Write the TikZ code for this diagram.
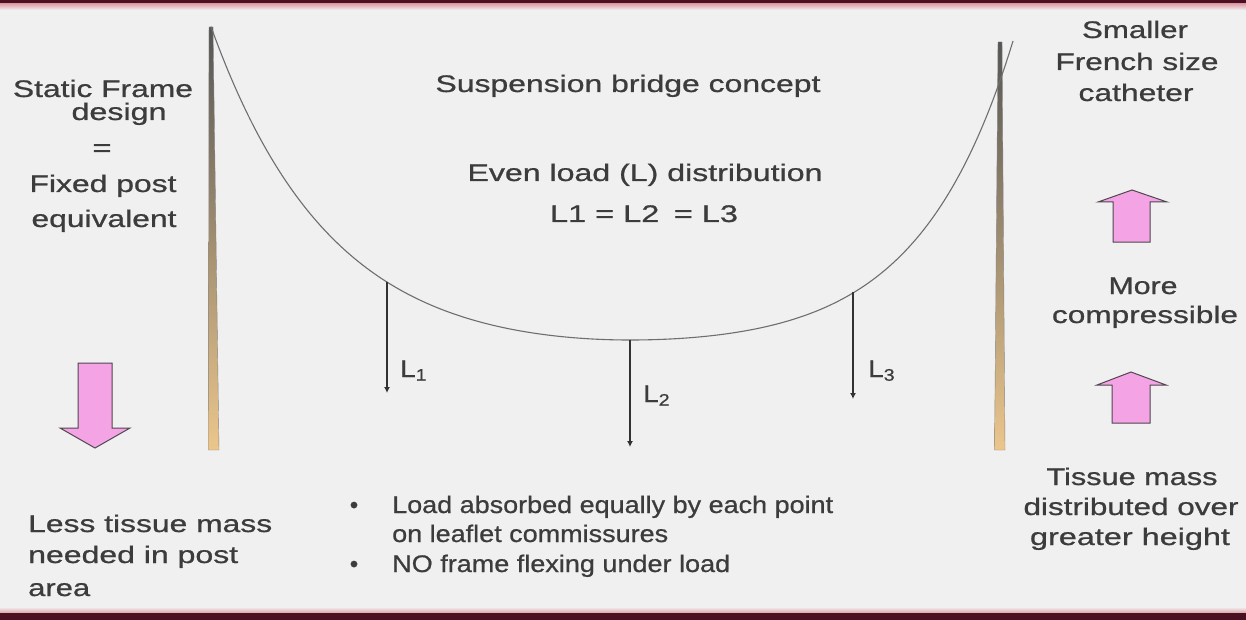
\documentclass[tikz,border=0pt]{standalone}
\usepackage{fontspec}
\setmainfont{Liberation Sans}[FakeBold=0.7]
\usetikzlibrary{arrows.meta}
\definecolor{bg}{RGB}{240,240,240}
\definecolor{txtc}{RGB}{60,60,60}
\definecolor{bandmaroon}{RGB}{72,16,32}
\definecolor{bandpink}{RGB}{222,160,170}
\definecolor{pinkfill}{RGB}{244,164,228}
\definecolor{pinkedge}{RGB}{80,70,80}
\definecolor{cablec}{RGB}{110,110,110}
\definecolor{arrowc}{RGB}{50,50,50}
\definecolor{postdark}{RGB}{85,85,85}
\definecolor{postmid}{RGB}{165,140,115}
\definecolor{posttan}{RGB}{236,198,140}
\newsavebox\fwbox
\newlength\fwlen
\newcommand\fw[2]{\sbox\fwbox{#2}\setlength\fwlen{\wd\fwbox}\pgfmathsetmacro\fwscale{#1/\fwlen}\scalebox{\fwscale}[1]{\usebox\fwbox}}
\tikzset{
  lbl/.style={text=txtc, inner sep=0pt, font=\fontsize{24}{28}\selectfont},
  cable/.style={draw=cablec, line width=1.1pt},
  loadarrow/.style={draw=arrowc, line width=1.3pt, -{Latex[length=6pt,width=6pt]}},
  pinkarrow/.style={fill=pinkfill, draw=pinkedge, line width=1pt, line join=miter},
  poststyle/.style={top color=postdark, middle color=postmid, bottom color=posttan, draw=postdark!70, line width=0.4pt}
}
\begin{document}
\begin{tikzpicture}[x=1pt, y=-1pt]
\useasboundingbox (0,0) rectangle (1246,620);
\fill[bg] (0,0) rectangle (1246,620);
% bands
\fill[bandmaroon] (0,0) rectangle (1246,4);
\shade[top color=bandpink, bottom color=bg] (0,4) rectangle (1246,10);
\shade[top color=bg, bottom color=bandpink] (0,607) rectangle (1246,613);
\fill[bandmaroon] (0,613) rectangle (1246,620);
% posts
\shade[poststyle] (209,27) -- (213,27) -- (219,450) -- (208.5,450) -- cycle;
\shade[poststyle] (998,42) -- (1002,42) -- (1005,450) -- (994.5,450) -- cycle;
% cable
\draw[cable] plot[domain=211:630, samples=90, smooth] (\x, {340-20.3*(cosh((\x-630)/120)-1)});
\draw[cable] plot[domain=630:1013, samples=90, smooth] (\x, {340-11*(cosh((\x-630)/95)-1)});
% load arrows
\coordinate (c1) at (387,282);
\coordinate (e1) at (387,393);
\coordinate (c2) at (630,340);
\coordinate (e2) at (630,447);
\coordinate (c3) at (853,292);
\coordinate (e3) at (853,399);
\draw[loadarrow] (c1) -- (e1);
\draw[loadarrow] (c2) -- (e2);
\draw[loadarrow] (c3) -- (e3);
\node[lbl, anchor=base west] (l1) at (400,377) {\fw{27}{L\textsubscript{1}}};
\node[lbl, anchor=base west] (l2) at (643,402) {\fw{27}{L\textsubscript{2}}};
\node[lbl, anchor=base west] (l3) at (868,377) {\fw{27}{L\textsubscript{3}}};
% pink arrows
\draw[pinkarrow] (78,363) -- (112,363) -- (112,428) -- (130,428) -- (95,448) -- (60,428) -- (78,428) -- cycle;
\draw[pinkarrow] (1113,242) -- (1150,242) -- (1150,202) -- (1167,202) -- (1132,190) -- (1098,202) -- (1113,202) -- cycle;
\draw[pinkarrow] (1112,423) -- (1150,423) -- (1150,385) -- (1166,385) -- (1131,372) -- (1097,385) -- (1112,385) -- cycle;
% left texts
\node[lbl, anchor=base] (sf1) at (103,97) {\fw{180}{Static Frame}};
\node[lbl, anchor=base] (sf2) at (119,120) {\fw{95}{design}};
\node[lbl, anchor=base] (sf3) at (102,156) {\fw{19}{=}};
\node[lbl, anchor=base] (sf4) at (103,192) {\fw{147}{Fixed post}};
\node[lbl, anchor=base] (sf5) at (104,227) {\fw{145}{equivalent}};
\node[lbl, anchor=base west] (lt1) at (28,532) {\fw{244}{Less tissue mass}};
\node[lbl, anchor=base west] (lt2) at (28,563) {\fw{210}{needed in post}};
\node[lbl, anchor=base west] (lt3) at (28,596) {\fw{62}{area}};
% right texts
\node[lbl, anchor=base] (rs1) at (1135,38) {\fw{106}{Smaller}};
\node[lbl, anchor=base] (rs2) at (1137,70) {\fw{163}{French size}};
\node[lbl, anchor=base] (rs3) at (1136,101) {\fw{115}{catheter}};
\node[lbl, anchor=base] (rm1) at (1143,294) {\fw{69}{More}};
\node[lbl, anchor=base] (rm2) at (1145,323) {\fw{186}{compressible}};
\node[lbl, anchor=base] (rt1) at (1132,485) {\fw{171}{Tissue mass}};
\node[lbl, anchor=base] (rt2) at (1131,515) {\fw{215}{distributed over}};
\node[lbl, anchor=base] (rt3) at (1130,545) {\fw{200}{greater height}};
% middle texts
\node[lbl, anchor=base] (m1) at (628,92) {\fw{385}{Suspension bridge concept}};
\node[lbl, anchor=base] (m2) at (645,181) {\fw{355}{Even load (L) distribution}};
\node[lbl, anchor=base] (m3) at (644,222) {\fw{188}{L1 = L2 \,= L3}};
% bullets
\node[lbl, anchor=base] (b1) at (354,513) {\textbullet};
\node[lbl, anchor=base] (b2) at (354,572) {\textbullet};
\node[lbl, anchor=base west] (t1) at (392,513) {\fw{441}{Load absorbed equally by each point}};
\node[lbl, anchor=base west] (t2) at (392,542) {\fw{276}{on leaflet commissures}};
\node[lbl, anchor=base west] (t3) at (392,572) {\fw{338}{NO frame flexing under load}};
\end{tikzpicture}
\end{document}
